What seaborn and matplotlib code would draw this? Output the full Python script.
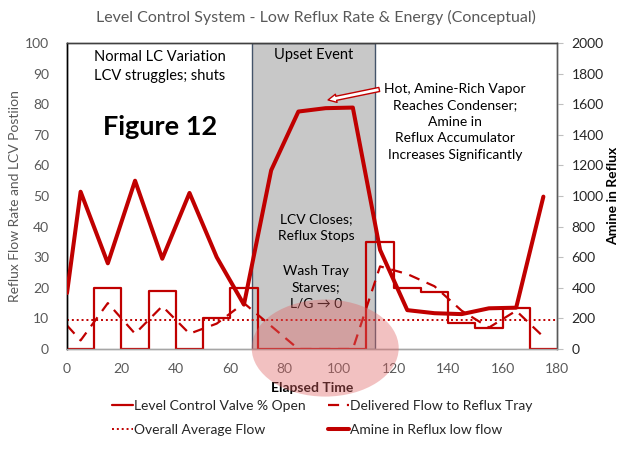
import numpy as np
import pandas as pd
import seaborn as sns
import matplotlib.pyplot as plt
from matplotlib.patches import Ellipse
from matplotlib.lines import Line2D

# step series: LCV % open (value holds from t to next t)
lcv_time = [0, 10, 20, 30, 40, 50, 60, 70, 80, 90, 100, 110, 120, 130, 140, 150, 160, 170, 180]
lcv_open = [0, 20, 0, 19, 0, 10, 20, 0, 0, 0, 0, 35, 20, 18.5, 8.5, 7, 13.5, 0, 0]

# sampled series
sample_time = [0, 5, 15, 25, 35, 45, 55, 65, 75, 85, 95, 105, 115, 125, 135, 145, 155, 165, 175]
delivered_flow = [7.7, 2.8, 15, 5, 14, 5, 8.3, 15, 7.5, 0, 0, 0, 27, 24.5, 20.5, 12.5, 7, 12.5, 4]
amine_reflux = [366, 1028, 560, 1100, 590, 1020, 600, 290, 1168, 1552, 1574, 1578, 648, 254, 234, 228, 266, 270, 996]

avg_flow = 9.4
avg_time = [0, 180]

upset_start, upset_end = 68, 113

red = '#c00000'
grey_txt = '#595959'

sns.set_style("white")
plt.rcParams['font.family'] = ['Lato', 'DejaVu Sans']

fig = plt.figure(figsize=(6.26, 4.54), dpi=100)
ax = fig.add_axes([67/626, 1 - 349/454, 490/626, 306/454])
ax2 = ax.twinx()

# upset window
ax.axvspan(upset_start, upset_end, facecolor='#c8c8c8', edgecolor='#44546a', linewidth=1, zorder=0)

lcv_df = pd.DataFrame({'t': lcv_time, 'v': lcv_open})
sns.lineplot(data=lcv_df, x='t', y='v', ax=ax, color=red, linewidth=1.6,
             drawstyle='steps-post', estimator=None, zorder=3)

flow_df = pd.DataFrame({'t': sample_time, 'v': delivered_flow})
sns.lineplot(data=flow_df, x='t', y='v', ax=ax, color=red, linewidth=1.6,
             estimator=None, zorder=3)
ax.lines[-1].set_linestyle((0, (5, 3.5)))

avg_df = pd.DataFrame({'t': avg_time, 'v': [avg_flow, avg_flow]})
sns.lineplot(data=avg_df, x='t', y='v', ax=ax, color=red, linewidth=1.4,
             estimator=None, zorder=3)
ax.lines[-1].set_linestyle((0, (1, 1.5)))

amine_df = pd.DataFrame({'t': sample_time, 'v': amine_reflux})
sns.lineplot(data=amine_df, x='t', y='v', ax=ax2, color=red, linewidth=2.9,
             estimator=None, zorder=3)

ax.set_xlim(0, 180)
ax.set_ylim(0, 100)
ax2.set_ylim(0, 2000)
ax.set_xticks(range(0, 181, 20))
ax.set_yticks(range(0, 101, 10))
ax2.set_yticks(range(0, 2001, 200))

ax.tick_params(axis='both', length=0, labelsize=10, labelcolor=grey_txt)
ax.tick_params(axis='y', pad=13)
ax.tick_params(axis='x', pad=10)
ax2.tick_params(axis='y', length=4.5, width=0.8, color='#bfbfbf', labelsize=10,
                labelcolor='#262626', pad=6)

ax.set_xlabel('Elapsed Time', fontsize=10, fontweight='bold', color='black', labelpad=5)
ax.set_ylabel('Reflux Flow Rate and LCV Postiion', fontsize=10, color=grey_txt, labelpad=3)
ax2.set_ylabel('Amine in Reflux', fontsize=10, fontweight='bold', color='black', labelpad=2)

for a in (ax, ax2):
    a.spines['left'].set_color('black')
    a.spines['top'].set_color('#404040')
    a.spines['right'].set_color('#595959')
    a.spines['bottom'].set_color('#a6a6a6')
    for s in a.spines.values():
        s.set_linewidth(1)

# pink highlight ellipse
ell = Ellipse((94.85, 6), 54, 634, facecolor='#e06666', alpha=0.4, edgecolor='none',
              clip_on=False, zorder=5)
ax2.add_patch(ell)

# annotations
ax.text(34, 92.3, 'Normal LC Variation\nLCV struggles; shuts', ha='center', va='center',
        fontsize=10.5, linespacing=1.5, color='black')
ax.text(34.2, 72.5, 'Figure 12', ha='center', va='center', fontsize=19.5,
        fontweight='bold', color='black')
ax.text(90.5, 96.2, 'Upset Event', ha='center', va='center', fontsize=10.5, color='black')
ax.text(142.6, 74.3, 'Hot, Amine-Rich Vapor\nReaches Condenser;\nAmine in\nReflux Accumulator\nIncreases Significantly',
        ha='center', va='center', fontsize=10, linespacing=1.45, color='black')
ax.text(91.5, 39.6, 'LCV Closes;\nReflux Stops', ha='center', va='center',
        fontsize=10, linespacing=1.45, color='black')
ax.text(91.5, 20.2, 'Wash Tray\nStarves;\nL/G \u2192 0', ha='center', va='center',
        fontsize=10, linespacing=1.45, color='black')
ax.annotate('', xy=(94.9, 81.2), xytext=(115.7, 85),
            arrowprops=dict(arrowstyle='simple,head_length=0.6,head_width=0.6,tail_width=0.3',
                            fc='white', ec=red, lw=1))

fig.text(0.505, 1 - 17/454, 'Level Control System - Low Reflux Rate & Energy (Conceptual)',
         ha='center', va='center', fontsize=11.5, color=grey_txt)

handles = [
    Line2D([], [], color=red, lw=1.6),
    Line2D([], [], color=red, lw=1.4, linestyle=(0, (1, 1.5))),
    Line2D([], [], color=red, lw=1.6, linestyle=(0, (5, 3.5))),
    Line2D([], [], color=red, lw=2.9),
]
labels = ['Level Control Valve % Open', 'Overall Average Flow',
          'Delivered Flow to Reflux Tray', 'Amine in Reflux low flow']
fig.legend(handles, labels, ncol=2, loc='center', bbox_to_anchor=(0.515, 1 - 418/454),
           frameon=False, fontsize=10, handlelength=1.5, handletextpad=0.1,
           columnspacing=1.6, labelspacing=0.85)

fig.savefig('out.png', dpi=100)
